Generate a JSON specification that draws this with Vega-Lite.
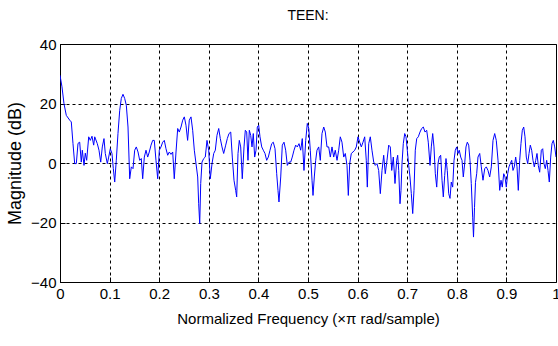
{
  "$schema": "https://vega.github.io/schema/vega-lite/v6.json",
  "width": 496,
  "height": 238,
  "autosize": {"type": "none"},
  "padding": {"left": 60, "top": 44, "right": 2, "bottom": 64},
  "background": "white",
  "title": {"text": "TEEN:", "fontSize": 14, "font": "Liberation Sans, Arial, sans-serif", "fontWeight": "normal", "color": "#000", "offset": 14},
  "config": {
    "view": {"stroke": "#000", "strokeWidth": 1},
    "axis": {
      "labelFont": "Liberation Sans, Arial, sans-serif",
      "titleFont": "Liberation Sans, Arial, sans-serif",
      "labelColor": "#000",
      "titleColor": "#000",
      "titleFontWeight": "normal",
      "gridColor": "#000",
      "gridDash": [3, 3],
      "gridOpacity": 1,
      "gridWidth": 1,
      "domainColor": "#000",
      "tickColor": "#000",
      "tickSize": -5
    }
  },
  "data": {"values": [
    {"f":0,"m":29.5},{"f":0.004,"m":25.6},{"f":0.008,"m":20},{"f":0.0127,"m":16},{"f":0.0196,"m":14.4},{"f":0.0228,"m":13.8},{"f":0.0262,"m":6.5},{"f":0.0296,"m":-0.2},{"f":0.0329,"m":-0.2},{"f":0.0363,"m":6.6},{"f":0.0397,"m":7},{"f":0.0429,"m":0.3},{"f":0.045,"m":4.3},{"f":0.0484,"m":-0.8},{"f":0.051,"m":3.3},{"f":0.0538,"m":0.9},{"f":0.0579,"m":8.8},{"f":0.0611,"m":7.6},{"f":0.0645,"m":9},{"f":0.0679,"m":6},{"f":0.07,"m":8.8},{"f":0.0752,"m":6.5},{"f":0.0786,"m":4.3},{"f":0.0821,"m":0.3},{"f":0.0853,"m":5.4},{"f":0.0887,"m":8.2},{"f":0.0913,"m":3.2},{"f":0.0954,"m":-0.2},{"f":0.0982,"m":2},{"f":0.1014,"m":4.8},{"f":0.1048,"m":3.2},{"f":0.1075,"m":-1.9},{"f":0.1103,"m":-6.4},{"f":0.1135,"m":0.9},{"f":0.1169,"m":9.9},{"f":0.1204,"m":17.7},{"f":0.1236,"m":21.7},{"f":0.127,"m":23.1},{"f":0.1304,"m":21.7},{"f":0.1337,"m":19.4},{"f":0.1371,"m":12.1},{"f":0.1405,"m":-5.3},{"f":0.1438,"m":-1.3},{"f":0.1472,"m":-1.9},{"f":0.1506,"m":4.3},{"f":0.1538,"m":5.4},{"f":0.1573,"m":3.7},{"f":0.1607,"m":0.9},{"f":0.1639,"m":1.5},{"f":0.1667,"m":-5.3},{"f":0.17,"m":2},{"f":0.1734,"m":4.3},{"f":0.1768,"m":2},{"f":0.18,"m":3.7},{"f":0.1835,"m":6},{"f":0.1869,"m":7.6},{"f":0.1901,"m":7.6},{"f":0.1935,"m":0.9},{"f":0.197,"m":-5.3},{"f":0.2002,"m":4.3},{"f":0.2036,"m":5.4},{"f":0.207,"m":7},{"f":0.2103,"m":7.6},{"f":0.2137,"m":4.8},{"f":0.2171,"m":2.6},{"f":0.2204,"m":3.7},{"f":0.2238,"m":2.9},{"f":0.2272,"m":3.7},{"f":0.2304,"m":-5.3},{"f":0.2339,"m":3.7},{"f":0.2373,"m":11.6},{"f":0.2405,"m":10.4},{"f":0.244,"m":12.1},{"f":0.2474,"m":14.4},{"f":0.2506,"m":15.5},{"f":0.254,"m":12.7},{"f":0.2573,"m":7.6},{"f":0.2607,"m":14.4},{"f":0.2641,"m":15.5},{"f":0.2675,"m":11},{"f":0.2708,"m":4.3},{"f":0.2742,"m":-0.2},{"f":0.2776,"m":-4.7},{"f":0.2796,"m":-13.7},{"f":0.2817,"m":-20.4},{"f":0.2837,"m":-6.9},{"f":0.2863,"m":0.3},{"f":0.2897,"m":1.5},{"f":0.2929,"m":2},{"f":0.2964,"m":7.6},{"f":0.2998,"m":4.3},{"f":0.303,"m":-5.3},{"f":0.3065,"m":-0.2},{"f":0.3099,"m":3.2},{"f":0.3131,"m":4.3},{"f":0.3165,"m":9.3},{"f":0.32,"m":11.6},{"f":0.3232,"m":8.2},{"f":0.3266,"m":5.4},{"f":0.33,"m":3.2},{"f":0.3341,"m":6},{"f":0.3373,"m":8.2},{"f":0.3407,"m":9.9},{"f":0.3442,"m":10.4},{"f":0.3474,"m":2},{"f":0.3508,"m":-5.8},{"f":0.3542,"m":-9.2},{"f":0.3562,"m":-11.4},{"f":0.3589,"m":3.2},{"f":0.3615,"m":7.6},{"f":0.3643,"m":5.4},{"f":0.3675,"m":-5.3},{"f":0.371,"m":5.4},{"f":0.3736,"m":11},{"f":0.3764,"m":10.4},{"f":0.379,"m":0.9},{"f":0.3817,"m":11},{"f":0.3845,"m":9.3},{"f":0.3871,"m":5.4},{"f":0.3897,"m":9.9},{"f":0.3925,"m":2},{"f":0.3952,"m":4.3},{"f":0.3978,"m":12.1},{"f":0.4006,"m":12.7},{"f":0.4032,"m":8.8},{"f":0.4067,"m":5.4},{"f":0.4099,"m":4.3},{"f":0.4133,"m":3.2},{"f":0.4167,"m":0.9},{"f":0.42,"m":2},{"f":0.4234,"m":4.3},{"f":0.4268,"m":6.5},{"f":0.43,"m":7},{"f":0.4335,"m":4.8},{"f":0.4369,"m":-3.6},{"f":0.4395,"m":-9.2},{"f":0.4415,"m":-13.1},{"f":0.445,"m":-4.7},{"f":0.4482,"m":6},{"f":0.4516,"m":7},{"f":0.455,"m":4.3},{"f":0.4583,"m":-0.8},{"f":0.4617,"m":0.3},{"f":0.4651,"m":0.3},{"f":0.4683,"m":2},{"f":0.4718,"m":4.3},{"f":0.4752,"m":6},{"f":0.4784,"m":5.4},{"f":0.4819,"m":6.5},{"f":0.4853,"m":4.3},{"f":0.4885,"m":8.2},{"f":0.4919,"m":-2.5},{"f":0.4954,"m":7.6},{"f":0.4986,"m":13.3},{"f":0.5016,"m":11.6},{"f":0.5046,"m":4.3},{"f":0.5081,"m":-5.8},{"f":0.5101,"m":-10.9},{"f":0.5127,"m":-4.7},{"f":0.5155,"m":0.9},{"f":0.5181,"m":4.3},{"f":0.5216,"m":5.4},{"f":0.5248,"m":0.9},{"f":0.5282,"m":9.9},{"f":0.5317,"m":12.1},{"f":0.5349,"m":10.4},{"f":0.5383,"m":5.4},{"f":0.5417,"m":5.4},{"f":0.545,"m":2},{"f":0.5484,"m":5.4},{"f":0.5518,"m":2},{"f":0.555,"m":4.3},{"f":0.5585,"m":0.9},{"f":0.5619,"m":4.3},{"f":0.5651,"m":8.8},{"f":0.5685,"m":7},{"f":0.572,"m":2},{"f":0.5752,"m":3.2},{"f":0.5786,"m":-0.8},{"f":0.5813,"m":-10.9},{"f":0.5841,"m":-0.2},{"f":0.5873,"m":3.2},{"f":0.5907,"m":3.7},{"f":0.5942,"m":4.3},{"f":0.5974,"m":5.4},{"f":0.6008,"m":8.8},{"f":0.6042,"m":7},{"f":0.6075,"m":5.4},{"f":0.6109,"m":7},{"f":0.6143,"m":8.8},{"f":0.6175,"m":0.9},{"f":0.6196,"m":-8.1},{"f":0.6224,"m":6.5},{"f":0.6256,"m":8.8},{"f":0.629,"m":4.3},{"f":0.6325,"m":0.3},{"f":0.6357,"m":-0.8},{"f":0.6391,"m":-0.2},{"f":0.6425,"m":-2.5},{"f":0.6458,"m":-10.3},{"f":0.6492,"m":-2.5},{"f":0.6526,"m":2.6},{"f":0.6558,"m":-3.6},{"f":0.6593,"m":0.9},{"f":0.6627,"m":6},{"f":0.6659,"m":5.4},{"f":0.6688,"m":-2.5},{"f":0.672,"m":2},{"f":0.6754,"m":-6.9},{"f":0.6788,"m":0.9},{"f":0.6808,"m":2.6},{"f":0.6829,"m":-2.5},{"f":0.6855,"m":-13.7},{"f":0.6875,"m":-9.2},{"f":0.6895,"m":-0.2},{"f":0.6921,"m":6.5},{"f":0.695,"m":9.9},{"f":0.6976,"m":8.8},{"f":0.7002,"m":4.3},{"f":0.703,"m":-0.8},{"f":0.7056,"m":-4.7},{"f":0.7083,"m":-10.3},{"f":0.7111,"m":-17},{"f":0.7137,"m":-9.2},{"f":0.7163,"m":4.3},{"f":0.7192,"m":8.2},{"f":0.7224,"m":8.8},{"f":0.7258,"m":10.4},{"f":0.7292,"m":11.6},{"f":0.7325,"m":12.1},{"f":0.7359,"m":10.4},{"f":0.7393,"m":11},{"f":0.7425,"m":7},{"f":0.746,"m":-0.8},{"f":0.7486,"m":5.4},{"f":0.7514,"m":9.9},{"f":0.754,"m":5.4},{"f":0.7567,"m":-3.6},{"f":0.7595,"m":-8.1},{"f":0.7621,"m":-0.2},{"f":0.7647,"m":2},{"f":0.7675,"m":2.6},{"f":0.7702,"m":-5.8},{"f":0.7728,"m":-11.4},{"f":0.7756,"m":-4.2},{"f":0.7782,"m":1.5},{"f":0.7808,"m":-2.5},{"f":0.7837,"m":-10.3},{"f":0.7863,"m":-11.9},{"f":0.7889,"m":-6.4},{"f":0.7917,"m":-8.1},{"f":0.7944,"m":0.9},{"f":0.797,"m":4.3},{"f":0.7998,"m":5.4},{"f":0.8024,"m":3.2},{"f":0.805,"m":4.3},{"f":0.8079,"m":2},{"f":0.8105,"m":0.9},{"f":0.8131,"m":-4.7},{"f":0.8159,"m":-0.2},{"f":0.8185,"m":5.4},{"f":0.8212,"m":7},{"f":0.824,"m":6},{"f":0.8266,"m":0.9},{"f":0.8292,"m":-6.9},{"f":0.832,"m":-18.2},{"f":0.8337,"m":-24.9},{"f":0.8357,"m":-15},{"f":0.8377,"m":-6.5},{"f":0.8401,"m":-3.6},{"f":0.8427,"m":2},{"f":0.8462,"m":3.2},{"f":0.8494,"m":-1.3},{"f":0.8528,"m":-5.8},{"f":0.8563,"m":-1.9},{"f":0.8595,"m":-1.3},{"f":0.8629,"m":-2.5},{"f":0.8663,"m":-4.7},{"f":0.8696,"m":-1.3},{"f":0.873,"m":7.6},{"f":0.8764,"m":9.9},{"f":0.8796,"m":7.6},{"f":0.8831,"m":0.9},{"f":0.8865,"m":-9.2},{"f":0.8891,"m":-5.8},{"f":0.8917,"m":-8.1},{"f":0.8946,"m":-3.6},{"f":0.8972,"m":-4.7},{"f":0.8998,"m":-8.1},{"f":0.9026,"m":-3.6},{"f":0.9052,"m":-1.3},{"f":0.9079,"m":-0.2},{"f":0.9107,"m":0.9},{"f":0.9133,"m":-2.5},{"f":0.9159,"m":-1.3},{"f":0.9187,"m":2},{"f":0.9214,"m":-1.3},{"f":0.924,"m":-9.2},{"f":0.9268,"m":0.9},{"f":0.9294,"m":6.5},{"f":0.9321,"m":11},{"f":0.9349,"m":12.1},{"f":0.9375,"m":8.8},{"f":0.9401,"m":2},{"f":0.9429,"m":-0.2},{"f":0.9456,"m":3.2},{"f":0.9482,"m":6},{"f":0.951,"m":4.3},{"f":0.9536,"m":0.9},{"f":0.9563,"m":-1.3},{"f":0.9591,"m":0.9},{"f":0.9617,"m":3.2},{"f":0.9643,"m":-0.8},{"f":0.9671,"m":-3.1},{"f":0.9704,"m":4.3},{"f":0.9732,"m":4.8},{"f":0.9758,"m":-0.2},{"f":0.9784,"m":-1.9},{"f":0.9812,"m":0.9},{"f":0.9839,"m":-2.5},{"f":0.9865,"m":-6.4},{"f":0.9893,"m":2},{"f":0.9919,"m":6.5},{"f":0.9946,"m":7.6},{"f":0.9974,"m":5.4},{"f":1,"m":2}
  ]},
  "mark": {"type": "line", "color": "#0000ff", "strokeWidth": 1, "interpolate": "linear", "clip": true},
  "encoding": {
    "x": {
      "field": "f", "type": "quantitative",
      "scale": {"domain": [0, 1], "nice": false, "zero": false},
      "axis": {
        "title": "Normalized Frequency  (×π rad/sample)",
        "values": [0, 0.1, 0.2, 0.3, 0.4, 0.5, 0.6, 0.7, 0.8, 0.9, 1],
        "format": "~g",
        "labelFontSize": 15,
        "titleFontSize": 15,
        "labelPadding": 9,
        "titlePadding": 10,
        "labelFlush": false,
        "labelOverlap": false,
        "domain": false
      }
    },
    "y": {
      "field": "m", "type": "quantitative",
      "scale": {"domain": [-40, 40], "nice": false, "zero": false},
      "axis": {
        "title": "Magnitude (dB)",
        "values": [-40, -20, 0, 20, 40],
        "labelFontSize": 15,
        "titleFontSize": 18,
        "labelPadding": 9,
        "titlePadding": 6,
        "labelOverlap": false,
        "domain": false
      }
    }
  }
}
